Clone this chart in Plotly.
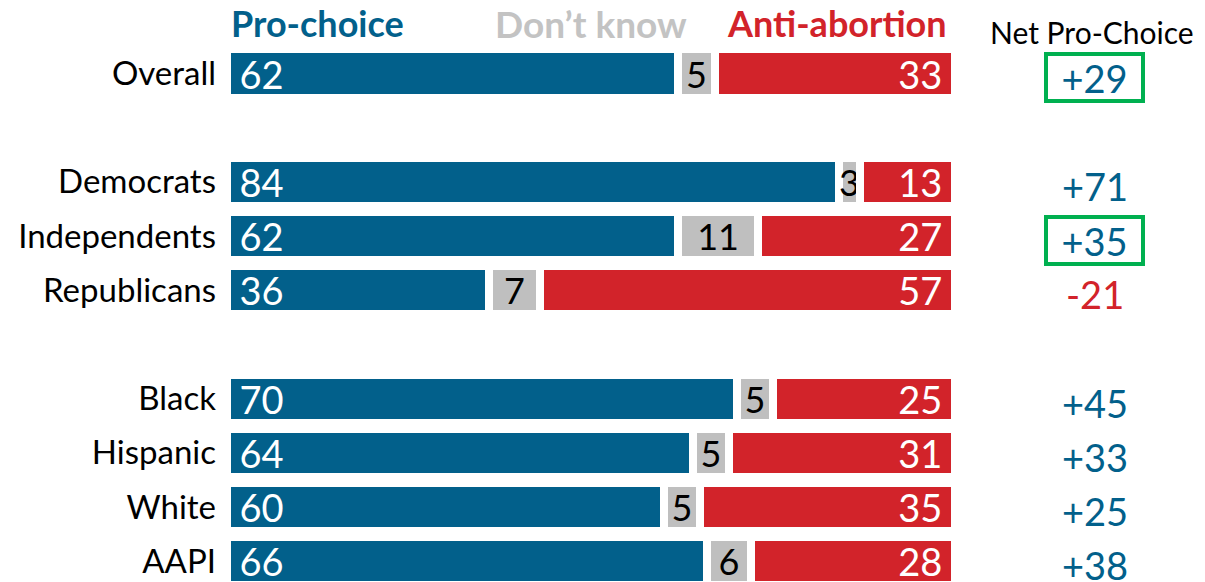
import plotly.graph_objects as go

categories = ["Overall", "Democrats", "Independents", "Republicans", "Black", "Hispanic", "White", "AAPI"]
pro_choice = [62, 84, 62, 36, 70, 64, 60, 66]
dont_know = [5, 3, 11, 7, 5, 5, 5, 6]
anti_abortion = [33, 13, 27, 57, 25, 31, 35, 28]
highlighted = ["Overall", "Independents"]

# vertical slots (gaps between groups)
row_pos = [0, 2, 3, 4, 6, 7, 8, 9]

BLUE = "#02608B"
RED = "#D2232A"
GRAY = "#BFBFBF"
GREEN = "#00B050"
FONT = "Lato"
FS = 38
NB = "\u00a0"
THIN = "\u2009"

# page body has an 8px margin: figure sized to fit the window
W, H = 1197, 574
PX = 7.28           # pixels per percentage point
Y0, ROW = 65.5, 54.2

fig = go.Figure()
common = dict(orientation="h", y=row_pos, width=0.886,
              marker_line=dict(color="white", width=8),
              textangle=0, cliponaxis=False, hoverinfo="skip")
fig.add_trace(go.Bar(x=pro_choice, marker_color=BLUE, text=[THIN + THIN + str(v) for v in pro_choice],
                     textposition="inside", insidetextanchor="start",
                     textfont=dict(color="white", size=FS, family=FONT), **common))
fig.add_trace(go.Bar(x=dont_know, marker_color=GRAY, text=[str(v) for v in dont_know],
                     textposition="inside", insidetextanchor="middle",
                     textfont=dict(color="black", size=FS - 2, family=FONT), **common))
fig.add_trace(go.Bar(x=anti_abortion, marker_color=RED, text=[str(v) + NB for v in anti_abortion],
                     textposition="inside", insidetextanchor="end",
                     textfont=dict(color="white", size=FS, family=FONT), **common))

NET_X = 119.2
HY = -0.93
annotations = [
    dict(text="<b>Pro-choice</b>", x=0, y=HY, xanchor="left", xshift=2,
         font=dict(color=BLUE, size=36, family=FONT)),
    dict(text="<b>Don’t know</b>", x=50, y=HY, xanchor="center",
         font=dict(color="#C3C3C3", size=37, family=FONT)),
    dict(text="<b>Anti-abortion</b>", x=100, y=HY, xanchor="right", xshift=-6,
         font=dict(color=RED, size=36, family=FONT)),
    dict(text="Net Pro-Choice", x=NET_X, y=-0.77, xanchor="center", xshift=-3,
         font=dict(color="black", size=30, family=FONT)),
]
for cat, pos, p, a in zip(categories, row_pos, pro_choice, anti_abortion):
    net = p - a
    label = f"+{net}" if net > 0 else f"{net}"
    ann = dict(text=label, x=NET_X, y=pos, xanchor="center", yanchor="middle", yshift=-4,
               font=dict(color=BLUE if net > 0 else RED, size=FS, family=FONT))
    if cat in highlighted:
        ann.update(bordercolor=GREEN, borderwidth=4, borderpad=2, width=89, height=39)
    annotations.append(ann)
for a in annotations:
    a.setdefault("xref", "x")
    a.setdefault("yref", "y")
    a.setdefault("showarrow", False)

L = 219
fig.update_layout(
    barmode="stack", width=W, height=H,
    margin=dict(l=L, r=0, t=0, b=0),
    plot_bgcolor="white", paper_bgcolor="white",
    showlegend=False, bargap=0,
    uniformtext=dict(minsize=FS - 2, mode="show"),
    annotations=annotations,
    xaxis=dict(range=[0, (W - L) / PX], visible=False, fixedrange=True),
    yaxis=dict(range=[(H - Y0) / ROW, -Y0 / ROW], tickvals=row_pos, ticktext=categories,
               showgrid=False, zeroline=False, showline=False, ticks="",
               ticklabelstandoff=10,
               tickfont=dict(color="black", size=33, family=FONT)),
)
fig.write_html("out.html")
